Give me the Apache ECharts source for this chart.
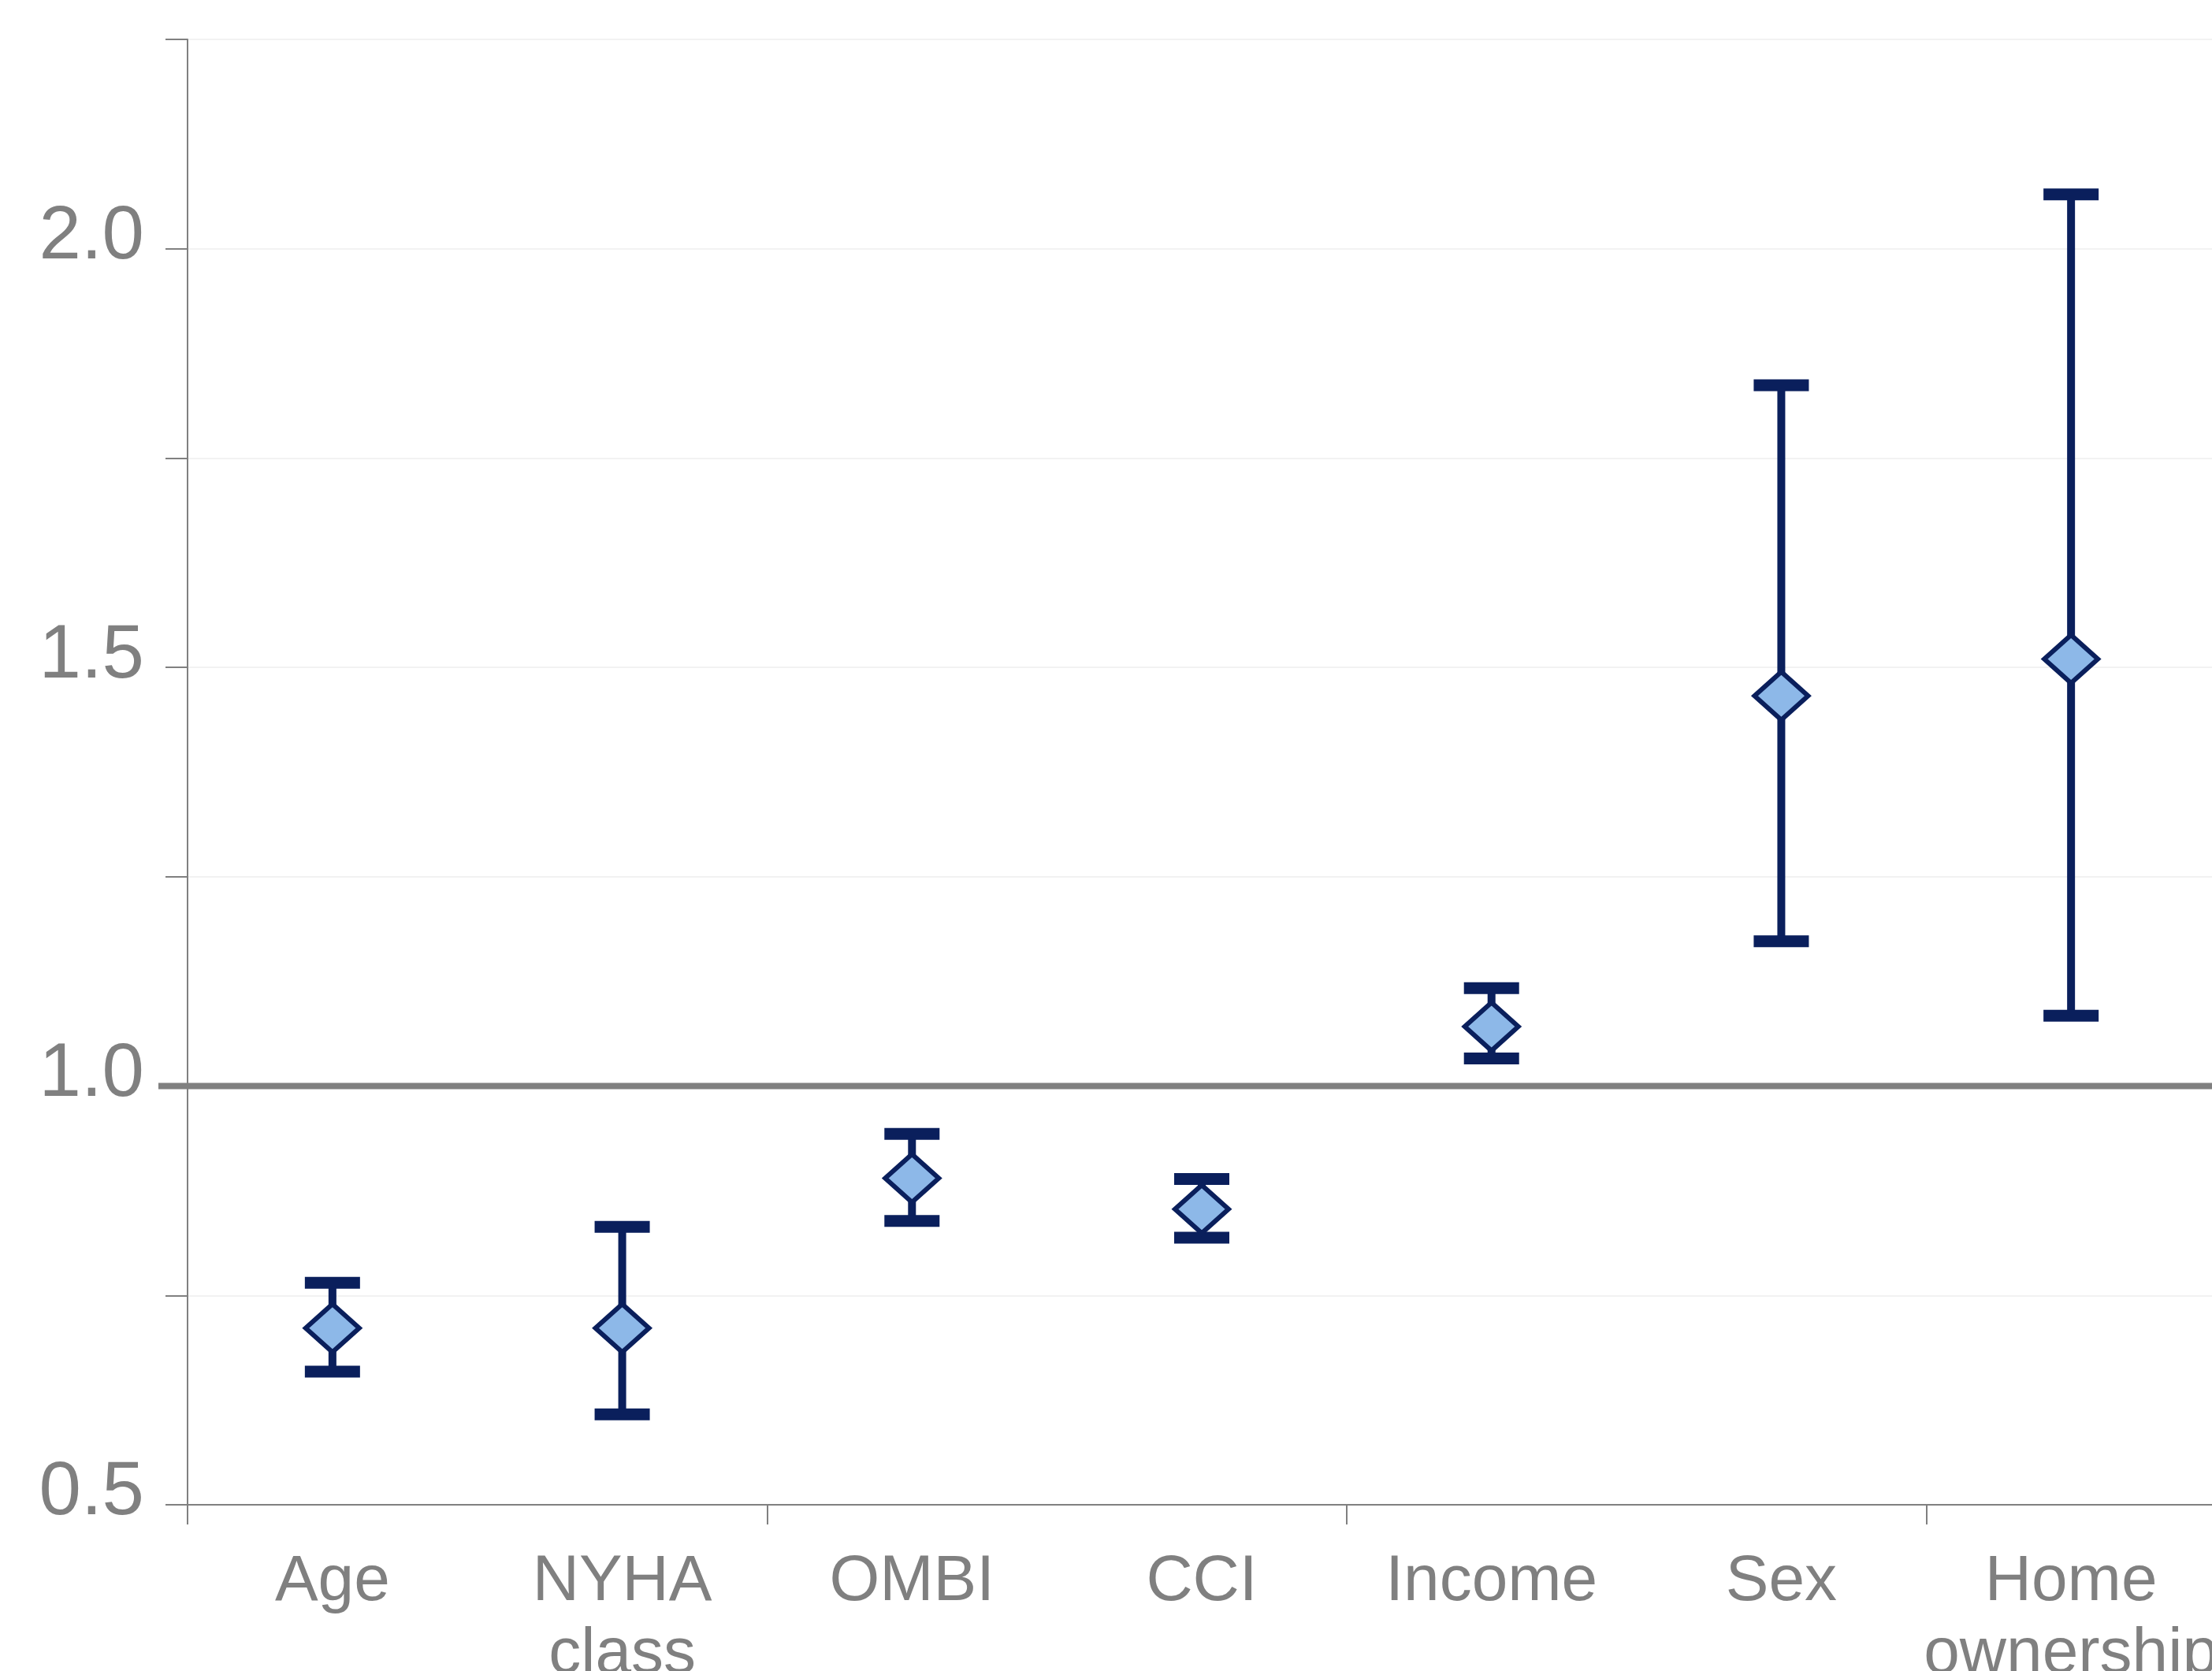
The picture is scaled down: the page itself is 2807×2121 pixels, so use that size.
<!DOCTYPE html>
<html>
<head>
<meta charset="utf-8">
<title>Odds ratios with 95% confidence intervals</title>
<script src="https://cdn.jsdelivr.net/npm/echarts@6/dist/echarts.min.js"></script>
<style>
  html, body { margin: 0; padding: 0; background: #ffffff; width: 2807px; height: 2121px; overflow: hidden; }
  #chart { position: absolute; left: 0; top: 0; width: 2807px; height: 2121px; overflow: hidden; }
</style>
</head>
<body>
<div id="chart"></div>
<script>
// Predictors on the x axis
const categories = ['Age', 'NYHA\nclass', 'OMBI', 'CCI', 'Income', 'Sex', 'Home\nownership'];
// Point estimates
const estimates = [0.711, 0.711, 0.890, 0.853, 1.071, 1.466, 1.510];
// Lower and upper bounds of the confidence intervals
const lowerCI = [0.659, 0.608, 0.839, 0.819, 1.033, 1.173, 1.084];
const upperCI = [0.765, 0.832, 0.943, 0.889, 1.117, 1.837, 2.065];
// Reference value (no effect)
const referenceValue = 1.0;
// Y axis range and step
const yMin = 0.5, yMax = 2.25, yStep = 0.25;

const navy = '#0A1F5C';
const fillBlue = '#8DB8E8';
const grey = '#808080';
const fontFamily = '"Liberation Sans", Arial, Helvetica, sans-serif';

const chart = echarts.init(document.getElementById('chart'), null, { renderer: 'canvas', width: 2807, height: 2121 });

const intervalData = categories.map((c, i) => [i, lowerCI[i], upperCI[i]]);
const pointData = categories.map((c, i) => [i, estimates[i]]);

chart.setOption({
  backgroundColor: '#ffffff',
  animation: false,
  grid: {
    left: 238, top: 50, width: 2574, height: 1860,
    containLabel: false,
    outerBoundsMode: 'none'
  },
  xAxis: {
    type: 'category',
    data: categories,
    boundaryGap: true,
    axisLine: { show: true, lineStyle: { color: grey, width: 2 } },
    axisTick: { show: true, interval: 1, length: 25, lineStyle: { color: grey, width: 2 } },
    axisLabel: {
      interval: 0,
      color: grey,
      fontFamily: fontFamily,
      fontSize: 82,
      lineHeight: 92,
      margin: 52
    },
    splitLine: { show: false }
  },
  yAxis: {
    type: 'value',
    min: yMin,
    max: yMax,
    interval: yStep,
    axisLine: { show: true, lineStyle: { color: grey, width: 2 } },
    axisTick: { show: true, length: 28, lineStyle: { color: grey, width: 2 } },
    axisLabel: {
      color: grey,
      fontFamily: fontFamily,
      fontSize: 96,
      margin: 55,
      lineHeight: 28,
      verticalAlign: 'bottom',
      formatter: function (v) {
        return Math.abs(v * 2 - Math.round(v * 2)) < 1e-9 ? v.toFixed(1) : '';
      }
    },
    splitLine: { show: true, lineStyle: { color: '#f2f2f2', width: 2 } }
  },
  series: [
    {
      // Reference line at 1.0, running slightly past the left axis
      type: 'custom',
      z: 2,
      silent: true,
      data: [[0, referenceValue]],
      encode: { x: 0, y: 1 },
      renderItem: function (params, api) {
        const cs = params.coordSys;
        const y = api.coord([0, api.value(1)])[1];
        return {
          type: 'line',
          shape: { x1: cs.x - 37, y1: y, x2: cs.x + cs.width, y2: y },
          style: { stroke: grey, lineWidth: 8 }
        };
      }
    },
    {
      // Confidence interval whiskers with flat caps
      type: 'custom',
      z: 3,
      data: intervalData,
      encode: { x: 0, y: [1, 2] },
      renderItem: function (params, api) {
        const i = api.value(0);
        const pLo = api.coord([i, api.value(1)]);
        const pHi = api.coord([i, api.value(2)]);
        const stemW = 10, capW = 70, capH = 15;
        return {
          type: 'group',
          children: [
            { type: 'rect', shape: { x: pHi[0] - stemW / 2, y: pHi[1], width: stemW, height: pLo[1] - pHi[1] }, style: { fill: navy } },
            { type: 'rect', shape: { x: pHi[0] - capW / 2, y: pHi[1] - capH / 2, width: capW, height: capH }, style: { fill: navy } },
            { type: 'rect', shape: { x: pLo[0] - capW / 2, y: pLo[1] - capH / 2, width: capW, height: capH }, style: { fill: navy } }
          ]
        };
      }
    },
    {
      // Point estimates
      type: 'scatter',
      z: 4,
      data: pointData,
      symbol: 'diamond',
      symbolSize: [68, 61],
      itemStyle: { color: fillBlue, borderColor: navy, borderWidth: 6, opacity: 1 }
    }
  ]
});
</script>
</body>
</html>
